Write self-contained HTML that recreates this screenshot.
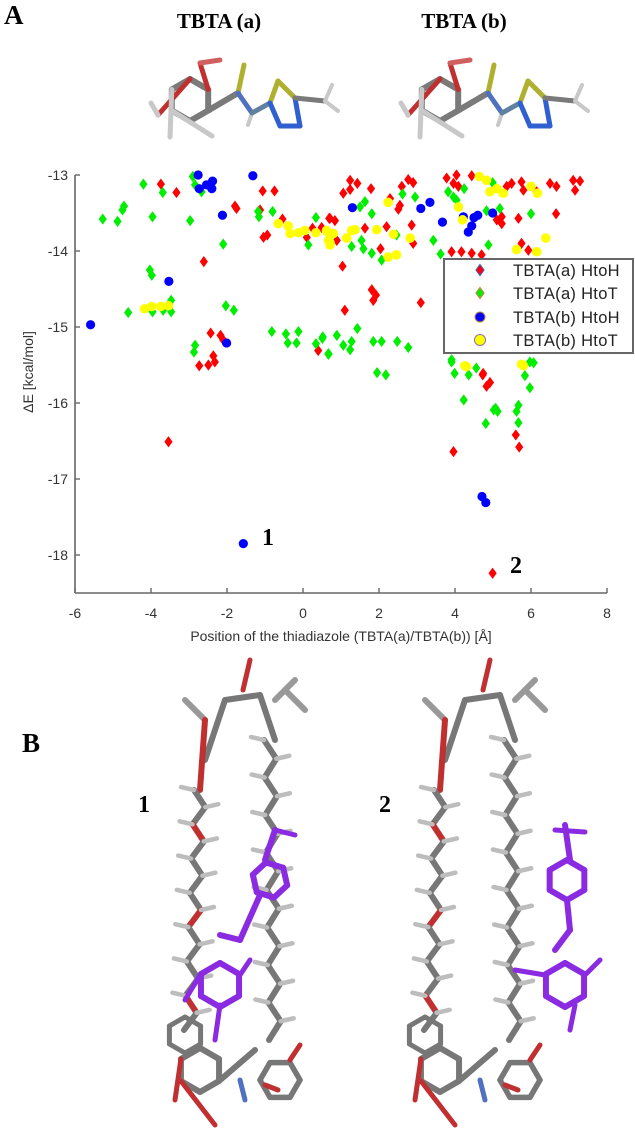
<!DOCTYPE html>
<html><head><meta charset="utf-8"><style>
html,body{margin:0;padding:0;background:#fff;}
svg{display:block;}
</style></head><body>
<svg id="fig" width="635" height="1137" viewBox="0 0 635 1137" xmlns="http://www.w3.org/2000/svg">
<text x="4" y="24" font-family="Liberation Serif, serif" font-weight="bold" font-size="27">A</text>
<text x="219" y="28" text-anchor="middle" font-family="Liberation Serif, serif" font-weight="bold" font-size="21">TBTA (a)</text>
<text x="464" y="28" text-anchor="middle" font-family="Liberation Serif, serif" font-weight="bold" font-size="21">TBTA (b)</text>
<g id="molA"></g>
<g id="molB"></g>
<g id="axes"></g>
<g id="marks"></g>
<g id="legend"></g>
<text x="268" y="545" text-anchor="middle" font-family="Liberation Serif, serif" font-weight="bold" font-size="24">1</text>
<text x="516" y="573" text-anchor="middle" font-family="Liberation Serif, serif" font-weight="bold" font-size="24">2</text>
<text x="22" y="752" font-family="Liberation Serif, serif" font-weight="bold" font-size="27">B</text>
<text x="144" y="812" text-anchor="middle" font-family="Liberation Serif, serif" font-weight="bold" font-size="24">1</text>
<text x="385" y="812" text-anchor="middle" font-family="Liberation Serif, serif" font-weight="bold" font-size="24">2</text>
<g id="struct1"></g>
<g id="struct2"></g>
</svg>
<script>
const xTicks=[-6,-4,-2,0,2,4,6,8];
const yTicks=[-13,-14,-15,-16,-17,-18];
const seriesNames=["TBTA(a) HtoH","TBTA(a) HtoT","TBTA(b) HtoH","TBTA(b) HtoT"];
const redX=[-3.74,-3.33,-2.61,-2.73,-2.49,-2.32,-2.36,-2.43,-2.17,-2.10,-1.79,-1.75,-1.13,-1.06,-0.75,-1.04,-0.94,-0.54,0.10,0.25,0.49,0.69,0.40,1.24,1.43,1.06,1.24,1.79,2.60,2.77,2.90,2.29,2.55,2.51,0.71,0.84,0.89,1.63,2.20,2.86,2.90,2.04,1.04,1.81,1.92,1.85,1.10,3.10,3.78,4.04,3.96,4.44,4.09,5.23,5.10,5.23,5.67,5.36,5.49,5.75,5.80,6.15,6.50,6.67,7.11,7.29,7.16,6.66,3.91,4.17,4.44,4.70,5.75,5.93,4.74,-3.54,3.96,4.73,4.83,4.92,5.60,5.69,4.99];
const redY=[-13.12,-13.23,-14.14,-15.51,-15.50,-15.46,-15.38,-15.08,-15.11,-15.17,-13.41,-13.44,-13.46,-13.21,-13.21,-13.82,-13.79,-13.58,-13.82,-13.70,-13.69,-13.57,-15.31,-13.07,-13.11,-13.24,-13.19,-13.18,-13.15,-13.06,-13.10,-13.31,-13.40,-13.45,-13.57,-13.60,-13.86,-13.70,-13.68,-13.66,-13.90,-13.97,-14.20,-14.51,-14.58,-14.65,-14.78,-14.68,-13.04,-13.00,-13.11,-13.01,-13.15,-13.55,-13.59,-13.64,-13.57,-13.15,-13.11,-13.09,-13.20,-13.22,-13.11,-13.15,-13.07,-13.08,-13.20,-13.51,-14.01,-14.01,-14.03,-14.05,-13.90,-13.99,-15.61,-16.51,-16.64,-15.63,-15.78,-15.73,-16.42,-16.58,-18.24];
const greenX=[-5.27,-4.88,-4.75,-4.71,-4.20,-3.96,-3.69,-4.03,-3.98,-4.60,-3.96,-3.68,-3.47,-3.47,-2.97,-2.90,-2.84,-2.67,-2.84,-2.87,-2.10,-2.03,-1.82,-1.18,-1.16,-0.80,0.14,0.34,-0.82,-0.45,-0.40,-0.17,-0.12,0.34,0.51,0.67,2.62,2.95,1.50,1.63,1.81,2.46,1.28,1.54,1.59,1.81,2.07,3.43,3.62,3.82,3.96,4.04,4.24,4.83,4.88,5.18,6.00,4.99,0.52,0.89,1.06,1.28,1.24,0.67,1.43,1.85,2.07,2.48,2.77,3.91,5.97,3.91,1.95,2.18,3.99,4.36,4.56,4.23,4.81,5.02,5.12,5.07,5.62,5.67,5.67,5.84,5.97,6.07];
const greenY=[-13.58,-13.61,-13.46,-13.41,-13.12,-13.55,-13.23,-14.25,-14.32,-14.81,-14.80,-14.78,-14.80,-14.65,-13.60,-13.02,-13.13,-13.22,-15.24,-15.33,-13.91,-14.72,-14.78,-13.48,-13.55,-13.48,-13.92,-13.56,-15.06,-15.09,-15.21,-15.21,-15.06,-15.22,-15.15,-15.35,-13.25,-13.29,-13.42,-13.35,-13.51,-13.79,-13.94,-13.86,-13.97,-14.03,-14.12,-13.86,-14.04,-13.22,-13.29,-13.33,-13.18,-13.47,-13.92,-13.44,-13.51,-13.10,-15.13,-15.11,-15.24,-15.19,-15.30,-15.36,-15.02,-15.19,-15.19,-15.19,-15.27,-15.46,-15.46,-15.43,-15.60,-15.63,-15.61,-15.63,-15.54,-15.96,-16.27,-16.09,-16.11,-16.07,-16.11,-16.03,-16.26,-15.64,-15.80,-15.47];
const blueX=[-5.59,-2.76,-2.73,-2.54,-2.38,-2.40,-2.12,-3.53,-2.01,-1.32,1.30,3.10,3.34,3.67,4.35,4.44,4.50,4.60,4.99,4.22,-1.57,4.71,4.81];
const blueY=[-14.97,-13.00,-13.18,-13.13,-13.08,-13.18,-13.53,-14.40,-15.21,-13.01,-13.43,-13.44,-13.36,-13.62,-13.75,-13.67,-13.56,-13.53,-13.50,-13.55,-17.85,-17.23,-17.31];
const yellowX=[-4.17,-3.98,-3.74,-3.54,-0.65,-0.39,-0.34,-0.12,0.05,0.34,0.62,0.67,0.71,2.24,0.62,0.80,0.71,1.15,1.28,1.37,1.94,2.38,2.82,2.24,2.46,4.09,4.20,4.64,4.83,4.92,5.10,5.27,6.00,6.17,6.39,5.62,6.15,4.30,5.75,4.26,5.80];
const yellowY=[-14.76,-14.73,-14.73,-14.72,-13.64,-13.67,-13.77,-13.76,-13.73,-13.76,-13.74,-13.86,-13.92,-13.36,-13.73,-13.77,-13.89,-13.83,-13.73,-13.72,-13.72,-13.78,-13.83,-14.08,-14.05,-13.42,-13.59,-13.02,-13.07,-13.22,-13.18,-13.24,-13.15,-13.24,-13.83,-13.98,-14.01,-15.52,-15.49,-15.51,-15.51];

const NS="http://www.w3.org/2000/svg";
function X(v){return 75+(v+6)*38;}
function Y(v){return 175+(-13-v)*76;}
function mk(tag,attrs,parent){const e=document.createElementNS(NS,tag);for(const k in attrs)e.setAttribute(k,attrs[k]);parent.appendChild(e);return e;}

const axes=document.getElementById('axes');
let l=mk('line',{x1:75,y1:175,x2:75,y2:593,stroke:'#666','stroke-width':1.6},axes);


l=mk('line',{x1:75,y1:593,x2:607,y2:593,stroke:'#666','stroke-width':1.6},axes);


xTicks.forEach(t=>{
  const tk=mk('line',{x1:X(t),y1:593,x2:X(t),y2:588,stroke:'#666','stroke-width':1.4},axes);
  
  
  const tx=mk('text',{x:X(t),y:618,'text-anchor':'middle','font-family':'Liberation Sans, sans-serif','font-size':14,fill:'#333'},axes);
  tx.textContent=t;
  
  
});
yTicks.forEach(t=>{
  const tk=mk('line',{x1:75,y1:Y(t),x2:80,y2:Y(t),stroke:'#666','stroke-width':1.4},axes);
  
  
  const tx=mk('text',{x:68,y:Y(t)+5,'text-anchor':'end','font-family':'Liberation Sans, sans-serif','font-size':14,fill:'#333'},axes);
  tx.textContent=t;
  
  
});
let xt=mk('text',{x:341,y:641,'text-anchor':'middle','font-family':'Liberation Sans, sans-serif','font-size':14,fill:'#333'},axes);
xt.textContent='Position of the thiadiazole (TBTA(a)/TBTA(b)) [Å]';


let yt=mk('text',{x:0,y:0,'text-anchor':'middle','font-family':'Liberation Sans, sans-serif','font-size':14,fill:'#333',transform:'translate(33,372) rotate(-90)'},axes);
yt.textContent='ΔE [kcal/mol]';



const marks=document.getElementById('marks');
function diamond(cx,cy,fill,parent,stroke){
  return mk('path',{d:`M${cx} ${cy-5.6}L${cx+4.1} ${cy}L${cx} ${cy+5.6}L${cx-4.1} ${cy}Z`,fill:fill,stroke:stroke||'none','stroke-width':1},parent);
}
redX.forEach((v,i)=>{const p=diamond(X(v),Y(redY[i]),'#ff0000',marks);
  
  });
greenX.forEach((v,i)=>{const p=diamond(X(v),Y(greenY[i]),'#00ee00',marks);
  
  });
blueX.forEach((v,i)=>{const p=mk('circle',{cx:X(v),cy:Y(blueY[i]),r:4.6,fill:'#0000ff'},marks);
  
  });
yellowX.forEach((v,i)=>{const p=mk('circle',{cx:X(v),cy:Y(yellowY[i]),r:4.8,fill:'#ffff00'},marks);
  
  });

const lg=document.getElementById('legend');
let box=mk('rect',{x:444,y:259,width:189,height:94,fill:'#fff',stroke:'#666','stroke-width':2},lg);


const ly=[270,293,317,340];
seriesNames.forEach((n,i)=>{
  let m;
  if(i===0)m=diamond(480,ly[i],'#ff0000',lg,'#4060c0');
  else if(i===1)m=diamond(480,ly[i],'#00ee00',lg,'#d08040');
  else if(i===2)m=mk('circle',{cx:480,cy:ly[i],r:5,fill:'#0000ff',stroke:'#c08040','stroke-width':1},lg);
  else m=mk('circle',{cx:480,cy:ly[i],r:5.5,fill:'#ffff00',stroke:'#9070b0','stroke-width':1},lg);
  
  
  const t=mk('text',{x:513,y:ly[i]+6,'font-family':'Liberation Sans, sans-serif','font-size':16.5,fill:'#222','letter-spacing':'0.3'},lg);
  t.textContent=n;
  
  
});

function bond(g,x1,y1,x2,y2,c,w){mk('line',{x1,y1,x2,y2,stroke:c,'stroke-width':w||5,'stroke-linecap':'round'},g);}
function ring(g,cx,cy,r,c,w,rot){let pts=[];for(let k=0;k<6;k++){const a=(rot||0)+k*Math.PI/3;pts.push([cx+r*Math.cos(a),cy+r*Math.sin(a)]);}
  for(let k=0;k<6;k++){const p=pts[k],q=pts[(k+1)%6];bond(g,p[0],p[1],q[0],q[1],c,w);}return pts;}
function smallMol(g,ox){
  const G='#7a7a7a',H='#c8c8c8';
  const p=ring(g,ox+50,100,21,G,6,Math.PI/2);
  bond(g,p[4][0],p[4][1],ox+60,63,'#c03030',5);bond(g,ox+60,63,ox+80,60,'#d06060',5);
  bond(g,p[3][0],p[3][1],ox+18,115,'#c03030',5);bond(g,ox+18,115,ox+11,103,H,5);
  bond(g,p[2][0],p[2][1],ox+30,137,H,5);bond(g,p[1][0],p[1][1],ox+72,136,H,5);
  bond(g,p[5][0],p[5][1],ox+98,93,G,6);
  bond(g,ox+98,93,ox+104,65,'#b0b030',5);
  bond(g,ox+98,93,ox+112,113,'#5070c0',5);bond(g,ox+112,113,ox+108,125,H,4);
  bond(g,ox+112,113,ox+130,103,'#6080a0',5);
  bond(g,ox+130,103,ox+138,81,'#b0b030',5);bond(g,ox+138,81,ox+155,98,'#b0b030',5);
  bond(g,ox+130,103,ox+140,126,'#3060d0',5);bond(g,ox+140,126,ox+160,126,'#3060d0',5);bond(g,ox+160,126,ox+155,98,'#3060d0',5);
  bond(g,ox+155,98,ox+185,101,G,5);bond(g,ox+185,101,ox+192,85,H,4);bond(g,ox+185,101,ox+198,111,H,4);
}
smallMol(document.getElementById('molA'),140);
smallMol(document.getElementById('molB'),390);

function chain(g,x0,y0,x1,y1,n,c,redEvery){
  const G='#777',H='#bdbdbd';
  for(let k=0;k<n;k++){
    const ax=x0+(x1-x0)*k/n,ay=y0+(y1-y0)*k/n,bx=x0+(x1-x0)*(k+1)/n,by=y0+(y1-y0)*(k+1)/n;
    const off=(k%2?6:-6);
    const col=(redEvery&&k%redEvery===2)?'#c03030':G;
    bond(g,ax+off,ay,bx-off,by,col,6);
    bond(g,ax+off,ay,ax+off+(off>0?13:-13),ay-3,H,4.5);
  }
}
function bigStruct(g,ox,twoLig){
  const P='#8a2be2';
  bond(g,ox+40,760,ox+60,700,'#777',6);bond(g,ox+60,700,ox+95,695,'#777',6);bond(g,ox+95,695,ox+110,740,'#777',6);
  bond(g,ox+78,690,ox+85,660,'#c03030',5);
  bond(g,ox+20,700,ox+40,720,'#999',6);bond(g,ox+110,700,ox+130,680,'#999',6);bond(g,ox+120,690,ox+140,710,'#999',6);
  bond(g,ox+40,720,ox+35,790,'#c03030',6);
  chain(g,ox+35,790,ox+25,1030,14,'#777',5);
  chain(g,ox+105,740,ox+110,1040,16,'#777',0);
  const r=ring(g,ox+35,1070,22,'#777',6,Math.PI/2);
  bond(g,r[1][0],r[1][1],ox+50,1125,'#c03030',5);
  bond(g,r[2][0],r[2][1],ox+10,1100,'#c03030',5);
  bond(g,r[5][0],r[5][1],ox+90,1050,'#777',6);
  ring(g,ox+115,1080,20,'#777',5.5,0);
  ring(g,ox+20,1035,18,'#777',5,Math.PI/2);
  bond(g,ox+100,1085,ox+113,1090,'#c03030',5);
  bond(g,ox+125,1060,ox+135,1045,'#c03030',5);
  bond(g,ox+75,1080,ox+80,1100,'#5070c0',5);
  if(!twoLig){
    ring(g,ox+105,880,18,P,6,0.3);
    bond(g,ox+100,860,ox+110,830,P,6);bond(g,ox+110,830,ox+130,835,P,5);
    bond(g,ox+95,895,ox+75,940,P,6);bond(g,ox+75,940,ox+55,935,P,6);
    ring(g,ox+55,985,22,P,6,Math.PI/2);
    bond(g,ox+55,1005,ox+50,1040,P,5);
    bond(g,ox+35,975,ox+20,1000,P,5);
    bond(g,ox+75,975,ox+85,960,P,5);
  } else {
    bond(g,ox+160,825,ox+165,860,P,6);bond(g,ox+150,830,ox+180,832,P,5);
    ring(g,ox+162,880,20,P,6,Math.PI/2);
    bond(g,ox+162,900,ox+165,930,P,6);bond(g,ox+165,930,ox+150,950,P,6);
    ring(g,ox+160,985,22,P,6,Math.PI/2);
    bond(g,ox+140,975,ox+110,970,P,5);bond(g,ox+170,1005,ox+165,1030,P,5);
    bond(g,ox+180,975,ox+195,960,P,5);
  }
}
bigStruct(document.getElementById('struct1'),165,false);
bigStruct(document.getElementById('struct2'),405,true);
</script>
</body></html>
